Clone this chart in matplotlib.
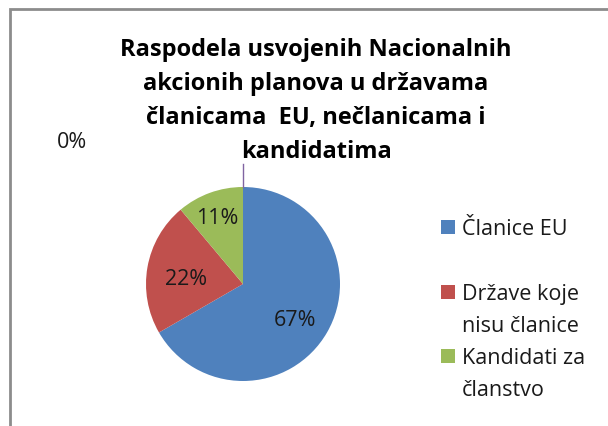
import numpy as np
import matplotlib.pyplot as plt
from matplotlib.patches import Rectangle

# Podaci
kategorije = ['Članice EU', 'Države koje\nnisu članice', 'Kandidati za\nčlanstvo', '']
vrednosti = [6, 2, 1, 0]
boje = ['#4F81BD', '#C0504D', '#9BBB59', '#8064A2']
naslov = 'Raspodela usvojenih Nacionalnih\nakcionih planova u državama\nčlanicama  EU, nečlanicama i\nkandidatima'

plt.rcParams['font.family'] = ['Open Sans', 'DejaVu Sans']

W, H = 608, 427
fig = plt.figure(figsize=(W / 100, H / 100), dpi=100)
ax = fig.add_axes([0, 0, 1, 1])

# okvir
ax.add_patch(Rectangle((10, -20), W + 40, H - 10 + 20, fill=False,
                       edgecolor='#8c8c8c', linewidth=2))

cx, cy, r = 243, H - 285, 97
wedges, _ = ax.pie(vrednosti, colors=boje, startangle=90, counterclock=False,
                   center=(cx, cy), radius=r, frame=True,
                   wedgeprops=dict(edgecolor='none'))
ax.set_xlim(0, W)
ax.set_ylim(0, H)
ax.set_aspect('equal')
ax.axis('off')

ukupno = sum(vrednosti)
udaljenosti = [0.62, 0.6, 0.78]
for w, v, d in zip(wedges[:3], vrednosti[:3], udaljenosti):
    ugao = np.deg2rad((w.theta1 + w.theta2) / 2)
    ax.text(cx + d * r * np.cos(ugao), cy + d * r * np.sin(ugao) - 5,
            f'{round(100 * v / ukupno)}%', ha='center', va='center',
            fontsize=15.5, color='#1a1a1a')

# 0% kategorija: linija i oznaka
ugao0 = np.deg2rad(wedges[3].theta1)
ax.plot([cx + r * np.cos(ugao0), cx + 1.24 * r * np.cos(ugao0)],
        [cy + r * np.sin(ugao0), cy + 1.24 * r * np.sin(ugao0)],
        color=boje[3], linewidth=1)
ax.text(72, H - 142, f'{round(100 * vrednosti[3] / ukupno)}%', ha='center',
        va='center', fontsize=15.5, color='#1a1a1a')

# naslov
ax.text(316, H - 101, naslov, ha='center', va='center', fontsize=17,
        fontweight='bold', linespacing=1.56, color='black')

# legenda
leg_y = [228, 293, 357]
for lab, boja, y in zip(kategorije[:3], boje[:3], leg_y):
    ax.add_patch(Rectangle((441, H - y - 7), 14, 14, facecolor=boja,
                           edgecolor='none'))
    ax.text(462, H - y + 9, lab, ha='left', va='top', fontsize=15.5,
            linespacing=1.7, color='#1a1a1a')

fig.savefig('out.png', dpi=100)
